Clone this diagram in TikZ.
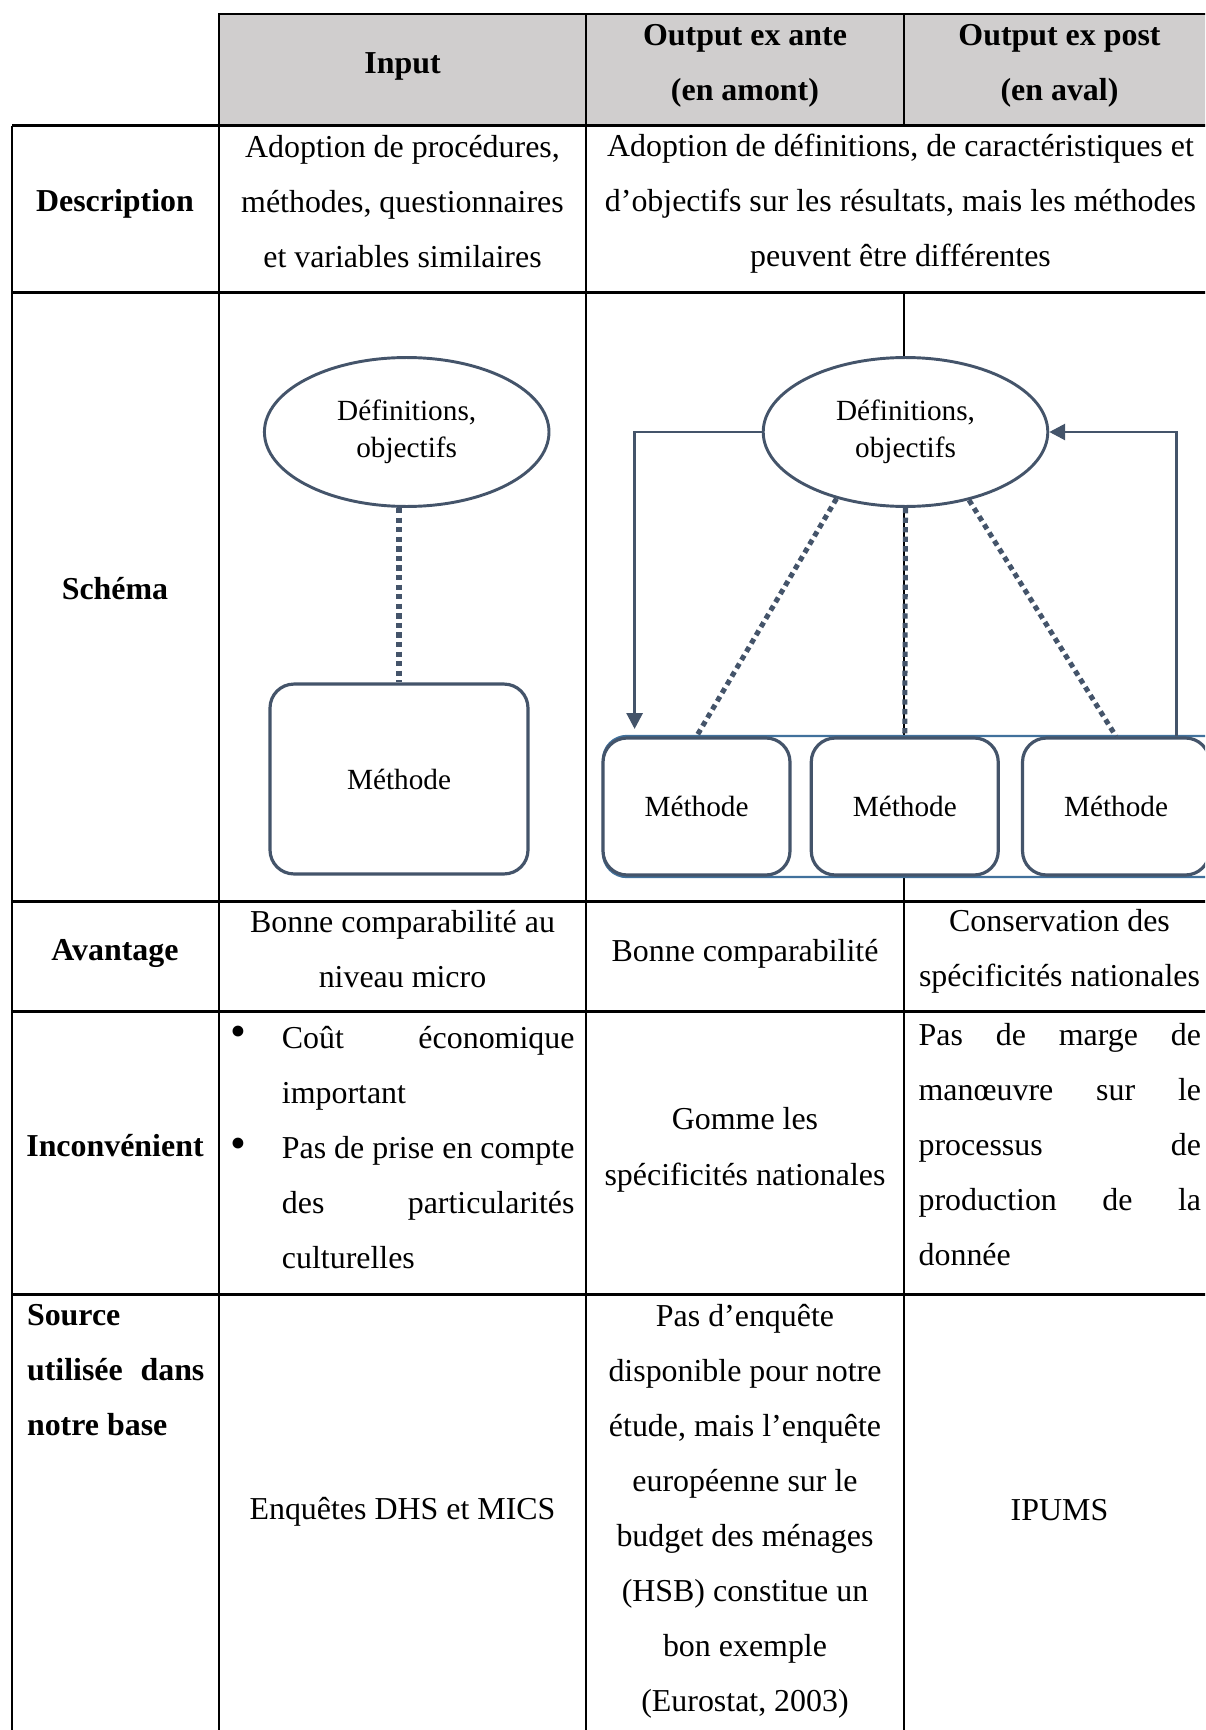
\documentclass[tikz,border=0pt]{standalone}
\usepackage{fontspec}
\setmainfont{Liberation Serif}
\usetikzlibrary{shapes.geometric,arrows.meta}

\definecolor{slate}{HTML}{44546A}
\definecolor{grpblue}{HTML}{41719C}
\definecolor{headgray}{HTML}{D0CECE}

\tikzset{
  txt/.style={font=\fontsize{12}{20.7}\selectfont, align=center, inner sep=0pt},
  btxt/.style={font=\fontsize{12}{20.7}\selectfont\bfseries, align=center, inner sep=0pt},
  rule/.style={line width=1pt},
  ell/.style={ellipse, draw=slate, line width=1.1pt, fill=white, minimum width=107pt,
    minimum height=56pt, inner sep=0pt, align=center, font=\fontsize{11}{14}\selectfont},
  meth/.style={draw=slate, line width=1.2pt, fill=white, rounded corners=9pt,
    font=\fontsize{11}{14}\selectfont},
  link/.style={draw=slate, line width=1.9pt, dash pattern=on 2pt off 1.6pt},
  flow/.style={draw=slate, line width=1.1pt, -{Triangle[width=6pt,length=6pt]}},
}

\begin{document}
\begin{tikzpicture}[x=0.376pt, y=-0.376pt]
  \clip (0,0) rectangle (1205,1730);

  % Grid of the table
  \fill[headgray] (219,14) rectangle (1230,125.7);
  \draw[rule] (219,125.7) -- (219,14) -- (1230,14);
  \draw[rule] (12,125.7) -- (1230,125.7);
  \draw[rule] (12,292.7) -- (1230,292.7);
  \draw[rule] (12,901.5) -- (1230,901.5);
  \draw[rule] (12,1011.7) -- (1230,1011.7);
  \draw[rule] (12,1294.3) -- (1230,1294.3);
  \draw[rule] (12,125.7) -- (12,1740);
  \draw[rule] (219,125.7) -- (219,1740);
  \draw[rule] (586,14) -- (586,1740);
  \draw[rule] (904,14) -- (904,125.7);
  \draw[line width=0.4pt] (904,292.7) -- (904,901.5);
  \draw[rule] (904,901.5) -- (904,1740);

  % Header
  \node[btxt] (hin)   at (402.5,66)  {Input};
  \node[btxt] (hante) at (745,66)    {Output ex ante\\(en amont)};
  \node[btxt] (hpost) at (1059.5,66) {Output ex post\\(en aval)};

  % Description
  \node[btxt] (rdesc) at (115,204) {Description};
  \node[txt] (desc1) at (402.5,201.4) {Adoption de procédures,\\méthodes, questionnaires\\et variables similaires};
  \node[txt] (desc2) at (900.5,204) {Adoption de définitions, de caractéristiques et\\d’objectifs sur les résultats, mais les méthodes\\peuvent être différentes};

  % Schéma
  \node[btxt] (rsch) at (115,588.2) {Schéma};

  \node[ell] (ellL) at (406.7,432) {Définitions,\\objectifs};
  \node[meth, minimum width=97pt, minimum height=71.4pt] (boxL) at (399,779) {Méthode};
  \draw[link] (ellL.south -| boxL.north) -- (boxL.north);

  \filldraw[fill=white, draw=grpblue, line width=0.9pt, rounded corners=9pt] (603,736) rectangle (1240,877);
  \node[ell] (ellR) at (905.5,432) {Définitions,\\objectifs};
  \node[meth, minimum width=70.3pt, minimum height=51.5pt] (m1) at (696.5,806.5) {Méthode};
  \node[meth, minimum width=70.3pt, minimum height=51.5pt] (m2) at (904.75,806.5) {Méthode};
  \node[meth, minimum width=70.3pt, minimum height=51.5pt] (m3) at (1116,806.5) {Méthode};
  \coordinate (tipL) at (634.6,729);
  \coordinate (tailR) at (1176.6,736);

  \draw[link] (ellR.224) -- (m1.north);
  \draw[link] (ellR.south) -- (m2.north);
  \draw[link] (ellR.313) -- (m3.north);
  \draw[flow] (ellR.west) -| (tipL);
  \draw[flow] (tailR) |- (ellR.east);

  % Avantage
  \node[btxt] (ravan) at (115,953.4) {Avantage};
  \node[txt] (avan1) at (402.5,949) {Bonne comparabilité au\\niveau micro};
  \node[txt] (avan2) at (745,953.4) {Bonne comparabilité};
  \node[txt] (avan3) at (1059.5,951.2) {Conservation des\\spécificités nationales};

  % Inconvénient
  \node[btxt] (rinc) at (115,1145.4) {Inconvénient};
  \node[txt, font=\fontsize{17}{17}\selectfont] (bul1) at (238.4,1036) {\textbullet};
  \node[txt, font=\fontsize{17}{17}\selectfont] (bul2) at (238.4,1148) {\textbullet};
  \node[txt, text width=110pt, align=justify, anchor=west] (inc1) at (281.4,1147.6)
    {Coût\hfill économique\\important\\Pas de prise en compte\\des\hfill particularités\\culturelles};
  \node[txt] (inc2) at (745,1149.8) {Gomme les\\spécificités nationales};
  \node[txt, text width=106.2pt, align=justify, anchor=west] (inc3) at (918.1,1144.4)
    {Pas\hfill de\hfill marge\hfill de\\manœuvre\hfill sur\hfill le\\processus\hfill de\\production\hfill de\hfill la\\donnée};

  % Source
  \node[btxt, text width=66.7pt, align=justify, anchor=west] (rsrc) at (26.5,1370.5)
    {Source\\utilisée\hfill dans\\notre base};
  \node[txt] (src1) at (402.5,1511.8) {Enquêtes DHS et MICS};
  \node[txt] (src2) at (745,1511.3) {Pas d’enquête\\disponible pour notre\\étude, mais l’enquête\\européenne sur le\\budget des ménages\\(HSB) constitue un\\bon exemple\\(Eurostat, 2003)};
  \node[txt] (src3) at (1059.5,1509.6) {IPUMS};
\end{tikzpicture}
\end{document}
